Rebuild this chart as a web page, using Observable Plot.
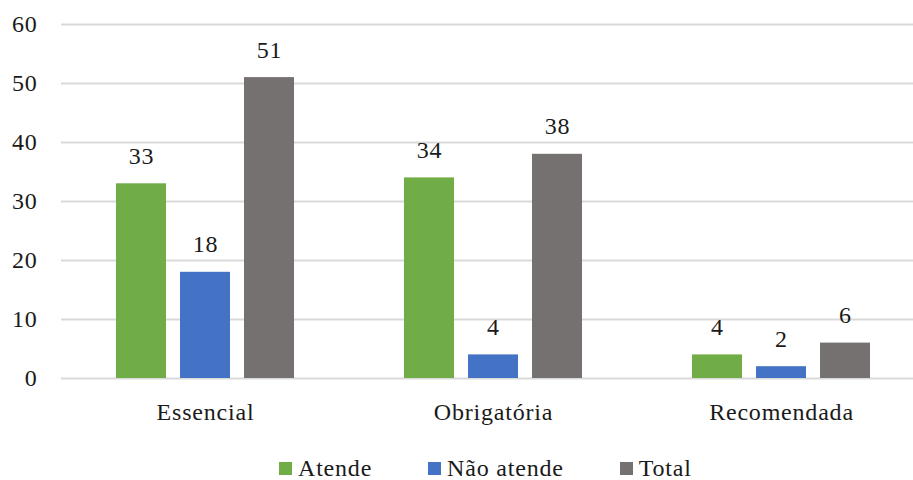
<!DOCTYPE html>
<html>
<head>
<meta charset="utf-8">
<script src="https://cdn.jsdelivr.net/npm/d3@7"></script>
<script src="https://cdn.jsdelivr.net/npm/@observablehq/plot@0.6"></script>
<style>
  html, body { margin: 0; padding: 0; background: #fff; overflow: hidden; }
  #wrap { position: relative; width: 913px; height: 480px; font-family: "Liberation Serif", "Tinos", "Times New Roman", "DejaVu Serif", serif; }
  #legend { position: absolute; left: 279px; top: 455px; display: flex; align-items: center; font-size: 24px; letter-spacing: 0.8px; color: #1a1a1a; line-height: 26px; }
  .item { display: flex; align-items: center; margin-right: 56px; }
  .item:last-child { margin-right: 0; }
  .sw { width: 13px; height: 13px; margin-right: 6px; display: inline-block; }
  #wrap svg text { font-family: "Liberation Serif", "Tinos", "Times New Roman", "DejaVu Serif", serif; }
</style>
</head>
<body>
<div id="wrap"></div>
<script>
const categories = ["Essencial", "Obrigatória", "Recomendada"];
const series = ["Atende", "Não atende", "Total"];
const atende = [33, 34, 4];
const naoAtende = [18, 4, 2];
const total = [51, 38, 6];
const colors = ["#70AD47", "#4472C4", "#767171"];
const yTicks = [0, 10, 20, 30, 40, 50, 60];

const valuesBySeries = [atende, naoAtende, total];
const data = [];
categories.forEach((c, i) => {
  series.forEach((s, j) => {
    data.push({cat: c, series: s, value: valuesBySeries[j][i]});
  });
});

const chart = Plot.plot({
  width: 913,
  height: 440,
  marginLeft: 60,
  marginRight: -12,
  marginTop: 24,
  marginBottom: 62,
  style: {fontFamily: "Liberation Serif, Tinos, Times New Roman, DejaVu Serif, serif", fontSize: "24px", color: "#1a1a1a", background: "#fff", letterSpacing: "0.8px"},
  fx: {domain: categories, padding: 0, label: null, tickSize: 0, tickPadding: 24},
  x: {domain: series, paddingInner: 0.225, paddingOuter: 0.845, axis: null},
  y: {domain: [0, 60], ticks: yTicks, label: null, tickSize: 0, tickPadding: 24, axis: null},
  color: {domain: series, range: colors},
  marks: [
    Plot.gridY(yTicks, {stroke: "#d9d9d9", strokeWidth: 2, strokeOpacity: 1}),
    Plot.axisY(yTicks, {tickSize: 0, tickPadding: 24, label: null, fontSize: 24}),
    Plot.barY(data, {fx: "cat", x: "series", y: "value", fill: "series"}),
    Plot.text(data, {fx: "cat", x: "series", y: "value", text: d => String(d.value), lineAnchor: "bottom", dy: -20, fill: "#1a1a1a", fontSize: 24})
  ]
});

const wrap = document.getElementById("wrap");
wrap.appendChild(chart);

const legend = document.createElement("div");
legend.id = "legend";
series.forEach((s, j) => {
  const it = document.createElement("span");
  it.className = "item";
  const sw = document.createElement("span");
  sw.className = "sw";
  sw.style.background = colors[j];
  const tx = document.createElement("span");
  tx.textContent = s;
  it.appendChild(sw);
  it.appendChild(tx);
  legend.appendChild(it);
});
wrap.appendChild(legend);
</script>
</body>
</html>
